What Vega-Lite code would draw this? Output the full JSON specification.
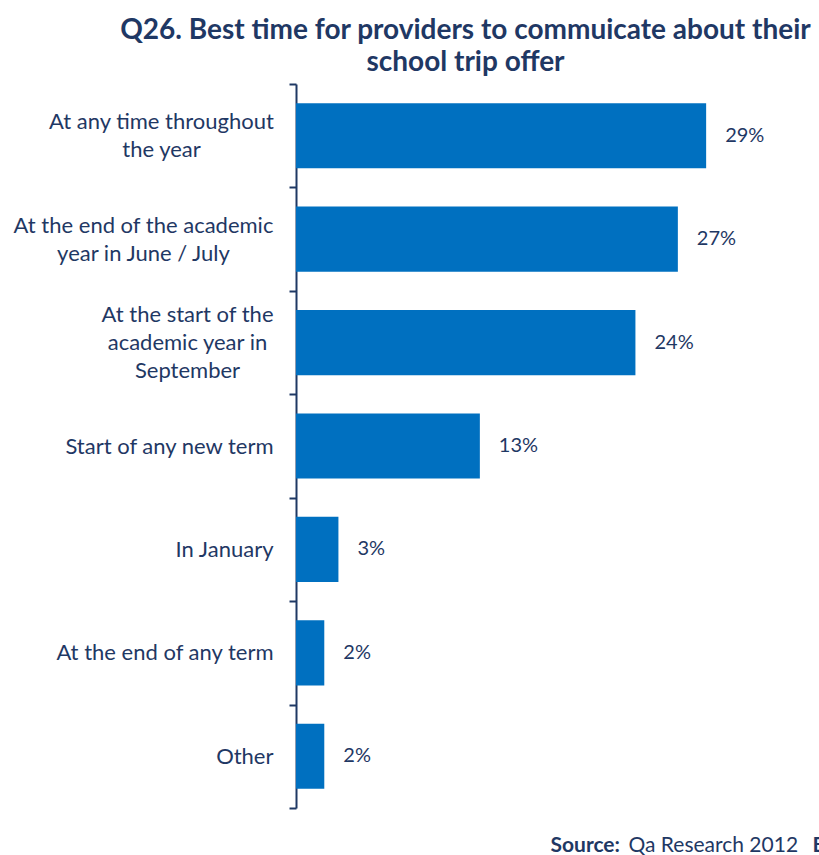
{
  "$schema": "https://vega.github.io/schema/vega-lite/v6.json",
  "width": 495,
  "height": 724,
  "autosize": {"type": "none"},
  "padding": {"left": 296, "top": 84, "right": 28, "bottom": 47},
  "background": "white",
  "title": {
    "text": ["Q26. Best time for providers to commuicate about their", "school trip offer"],
    "font": "Lato",
    "fontSize": 28,
    "fontWeight": "bold",
    "color": "#1F3864",
    "anchor": "middle",
    "frame": "group",
    "dx": -78,
    "offset": -4,
    "lineHeight": 32
  },
  "config": {"view": {"stroke": null}, "font": "Lato"},
  "data": {
    "values": [
      {"answer": "At any time throughout the year", "share": 0.29},
      {"answer": "At the end of the academic year in June / July", "share": 0.27},
      {"answer": "At the start of the academic year in September", "share": 0.24},
      {"answer": "Start of any new term", "share": 0.13},
      {"answer": "In January", "share": 0.03},
      {"answer": "At the end of any term", "share": 0.02},
      {"answer": "Other", "share": 0.02}
    ]
  },
  "encoding": {
    "y": {
      "field": "answer",
      "type": "nominal",
      "sort": null,
      "scale": {"paddingInner": 0, "paddingOuter": 0},
      "axis": {
        "title": "Source:",
        "titleAngle": 0,
        "titleAlign": "left",
        "titleBaseline": "alphabetic",
        "titleX": 254,
        "titleY": 767,
        "titleFont": "Lato",
        "titleFontSize": 21,
        "titleFontWeight": "bold",
        "titleColor": "#1F3864",
        "domainColor": "#1F3864",
        "domainWidth": 2,
        "tickColor": "#1F3864",
        "tickWidth": 2,
        "tickSize": 7,
        "tickBand": "extent",
        "labelFont": "Lato",
        "labelFontSize": 22,
        "labelColor": "#1F3864",
        "labelLimit": 320,
        "labelLineHeight": 28,
        "labelAlign": {
          "condition": {"test": "datum.value == 'At any time throughout the year' || datum.value == 'At the end of the academic year in June / July' || datum.value == 'At the start of the academic year in September'", "value": "center"},
          "value": "right"
        },
        "labelPadding": {
          "condition": [
            {"test": "datum.value == 'At any time throughout the year'", "value": 128},
            {"test": "datum.value == 'At the end of the academic year in June / July'", "value": 146},
            {"test": "datum.value == 'At the start of the academic year in September'", "value": 102}
          ],
          "value": 16
        },
        "labelOffset": {
          "condition": [
            {"test": "datum.value == 'At the start of the academic year in September'", "value": -28},
            {"test": "datum.value == 'At any time throughout the year' || datum.value == 'At the end of the academic year in June / July'", "value": -14}
          ],
          "value": 0
        },
        "labelExpr": "datum.value == 'At any time throughout the year' ? ['At any time throughout', 'the year'] : datum.value == 'At the end of the academic year in June / July' ? ['At the end of the academic', 'year in June / July'] : datum.value == 'At the start of the academic year in September' ? ['At the start of the', 'academic year in', 'September'] : datum.value"
      }
    },
    "x": {
      "field": "share",
      "type": "quantitative",
      "scale": {"domain": [0, 0.35]},
      "axis": {
        "title": "Qa Research 2012",
        "titleAlign": "left",
        "titleBaseline": "alphabetic",
        "titleAnchor": "start",
        "titleX": 332,
        "titleY": 43,
        "titleFont": "Lato",
        "titleFontSize": 21,
        "titleFontWeight": "normal",
        "titleColor": "#1F3864",
        "domain": false,
        "ticks": false,
        "tickSize": 0,
        "grid": false,
        "values": [0.35],
        "labelExpr": "'B'",
        "labelAlign": "left",
        "labelBaseline": "alphabetic",
        "labelOffset": 21,
        "labelPadding": 43,
        "labelFont": "Lato",
        "labelFontSize": 21,
        "labelFontWeight": "bold",
        "labelColor": "#1F3864",
        "labelOverlap": false,
        "labelBound": false,
        "labelFlush": false
      }
    }
  },
  "layer": [
    {
      "mark": {"type": "bar", "color": "#0070C0", "height": {"band": 0.63}}
    },
    {
      "mark": {"type": "text", "align": "left", "baseline": "middle", "dx": 19, "fontSize": 20, "font": "Lato", "color": "#1F3864"},
      "encoding": {"text": {"field": "share", "format": ".0%"}}
    }
  ]
}
